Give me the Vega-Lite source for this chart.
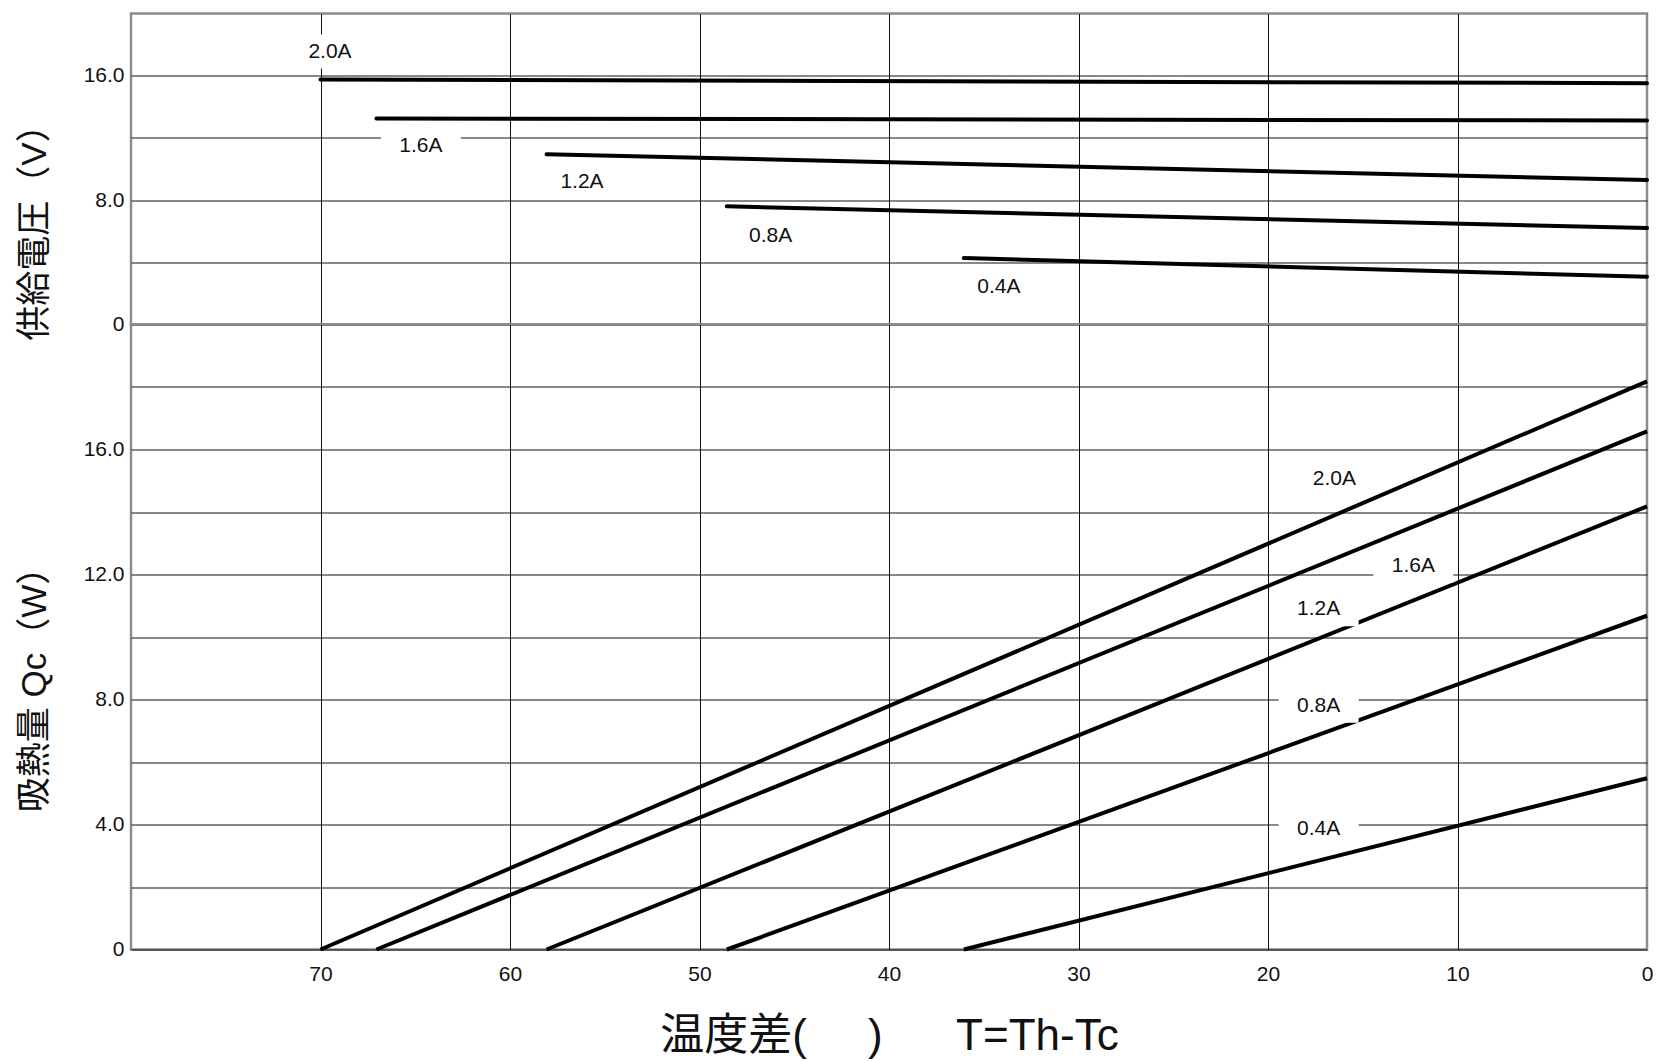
{
  "$schema": "https://vega.github.io/schema/vega-lite/v6.json",
  "background": "white",
  "padding": {"left": 15, "top": 11.5, "right": 5, "bottom": 5},
  "bounds": "flush",
  "spacing": 0,
  "config": {
    "font": "Liberation Sans, Noto Sans CJK JP",
    "view": {"stroke": "#8c8c8c", "strokeWidth": 2.5},
    "axis": {
      "gridColor": "#111",
      "gridWidth": 1,
      "gridOpacity": 1,
      "ticks": false,
      "domain": false,
      "labelFont": "Liberation Sans",
      "labelFontSize": 21,
      "labelColor": "#111",
      "labelFlush": false,
      "titleColor": "#111",
      "titleFontWeight": "normal"
    }
  },
  "datasets": {
    "volt": [
      {"I": "2.0A", "dT": 70, "V": 15.75}, {"I": "2.0A", "dT": 0, "V": 15.52},
      {"I": "1.6A", "dT": 67.05, "V": 13.25}, {"I": "1.6A", "dT": 0, "V": 13.12},
      {"I": "1.2A", "dT": 58.07, "V": 10.95}, {"I": "1.2A", "dT": 0, "V": 9.29},
      {"I": "0.8A", "dT": 48.56, "V": 7.6}, {"I": "0.8A", "dT": 0, "V": 6.2},
      {"I": "0.4A", "dT": 36.05, "V": 4.27}, {"I": "0.4A", "dT": 0, "V": 3.07}
    ],
    "qc": [
      {"I": "2.0A", "dT": 70, "Q": 0}, {"I": "2.0A", "dT": 0, "Q": 18.18},
      {"I": "1.6A", "dT": 67.05, "Q": 0}, {"I": "1.6A", "dT": 0, "Q": 16.58},
      {"I": "1.2A", "dT": 58.07, "Q": 0}, {"I": "1.2A", "dT": 0, "Q": 14.18},
      {"I": "0.8A", "dT": 48.56, "Q": 0}, {"I": "0.8A", "dT": 0, "Q": 10.68},
      {"I": "0.4A", "dT": 36.05, "Q": 0}, {"I": "0.4A", "dT": 0, "Q": 5.48}
    ],
    "vlab": [
      {"label": "2.0A", "dT": 69.5, "V": 17.55},
      {"label": "1.6A", "dT": 64.7, "V": 11.49},
      {"label": "1.2A", "dT": 56.2, "V": 9.15},
      {"label": "0.8A", "dT": 46.25, "V": 5.7},
      {"label": "0.4A", "dT": 34.2, "V": 2.38}
    ],
    "qlab": [
      {"label": "2.0A", "dT": 16.5, "Q": 15.07},
      {"label": "1.6A", "dT": 12.33, "Q": 12.28},
      {"label": "1.2A", "dT": 17.33, "Q": 10.89},
      {"label": "0.8A", "dT": 17.33, "Q": 7.8},
      {"label": "0.4A", "dT": 17.33, "Q": 3.87}
    ]
  },
  "vconcat": [
    {
      "width": 1516,
      "height": 311,
      "encoding": {
        "x": {"field": "dT", "type": "quantitative", "scale": {"domain": [0, 80], "reverse": true},
          "axis": {"values": [10, 20, 30, 40, 50, 60, 70], "labels": false, "title": null, "grid": true}},
        "y": {"field": "V", "type": "quantitative", "scale": {"domain": [0, 20]},
          "axis": {
            "values": [0, 4, 8, 12, 16],
            "labelExpr": "datum.value == 0 ? '0' : (datum.value % 8 == 0 ? format(datum.value, '.1f') : '')",
            "labelPadding": 7,
            "grid": true,
            "title": "供給電圧（V）",
            "titleFontSize": 35,
            "titleX": -79,
            "titleY": 210,
            "titleAngle": 270,
            "titleAlign": "center",
            "titleBaseline": "bottom"
          }}
      },
      "layer": [
        {"data": {"name": "vlab"}, "mark": {"type": "point", "shape": "M-1,-0.425H1V0.425H-1Z", "size": 6400, "filled": true, "fill": "white", "stroke": null, "opacity": 1}},
        {"data": {"name": "volt"}, "mark": {"type": "line", "color": "black", "strokeWidth": 4, "strokeCap": "round"},
          "encoding": {"detail": {"field": "I", "type": "nominal"}}},
        {"data": {"name": "vlab"}, "mark": {"type": "text", "fontSize": 21, "font": "Liberation Sans", "color": "#111", "align": "center", "baseline": "middle"},
          "encoding": {"text": {"field": "label"}}}
      ]
    },
    {
      "width": 1516,
      "height": 625,
      "encoding": {
        "x": {"field": "dT", "type": "quantitative", "scale": {"domain": [0, 80], "reverse": true},
          "axis": {
            "values": [0, 10, 20, 30, 40, 50, 60, 70],
            "grid": true,
            "gridOpacity": {"condition": {"test": "datum.value == 0", "value": 0}, "value": 1},
            "labelPadding": 14,
            "title": "温度差(\u00a0\u00a0\u00a0\u00a0\u00a0)\u00a0\u00a0\u00a0\u00a0\u00a0\u00a0T=Th-Tc",
            "titleFontSize": 44,
            "titlePadding": 30
          }},
        "y": {"field": "Q", "type": "quantitative", "scale": {"domain": [0, 20]},
          "axis": {
            "values": [0, 2, 4, 6, 8, 10, 12, 14, 16, 18],
            "labelExpr": "datum.value == 0 ? '0' : (datum.value % 4 == 0 ? format(datum.value, '.1f') : '')",
            "labelPadding": 7,
            "grid": true,
            "title": "吸熱量 Qc（W）",
            "titleFontSize": 35,
            "titleX": -79,
            "titleY": 356,
            "titleAngle": 270,
            "titleAlign": "center",
            "titleBaseline": "bottom"
          }}
      },
      "layer": [
        {"data": {"name": "qc"}, "mark": {"type": "line", "color": "black", "strokeWidth": 4, "strokeCap": "butt"},
          "encoding": {"detail": {"field": "I", "type": "nominal"}}},
        {"data": {"name": "qlab"}, "mark": {"type": "point", "shape": "M-1,-0.425H1V0.425H-1Z", "size": 6400, "filled": true, "fill": "white", "stroke": null, "opacity": 1}},
        {"data": {"name": "qlab"}, "mark": {"type": "text", "fontSize": 21, "font": "Liberation Sans", "color": "#111", "align": "center", "baseline": "middle"},
          "encoding": {"text": {"field": "label"}}},
        {"mark": {"type": "rule", "color": "black", "strokeWidth": 4}, "encoding": {"y": {"datum": 20}}}
      ]
    }
  ]
}
